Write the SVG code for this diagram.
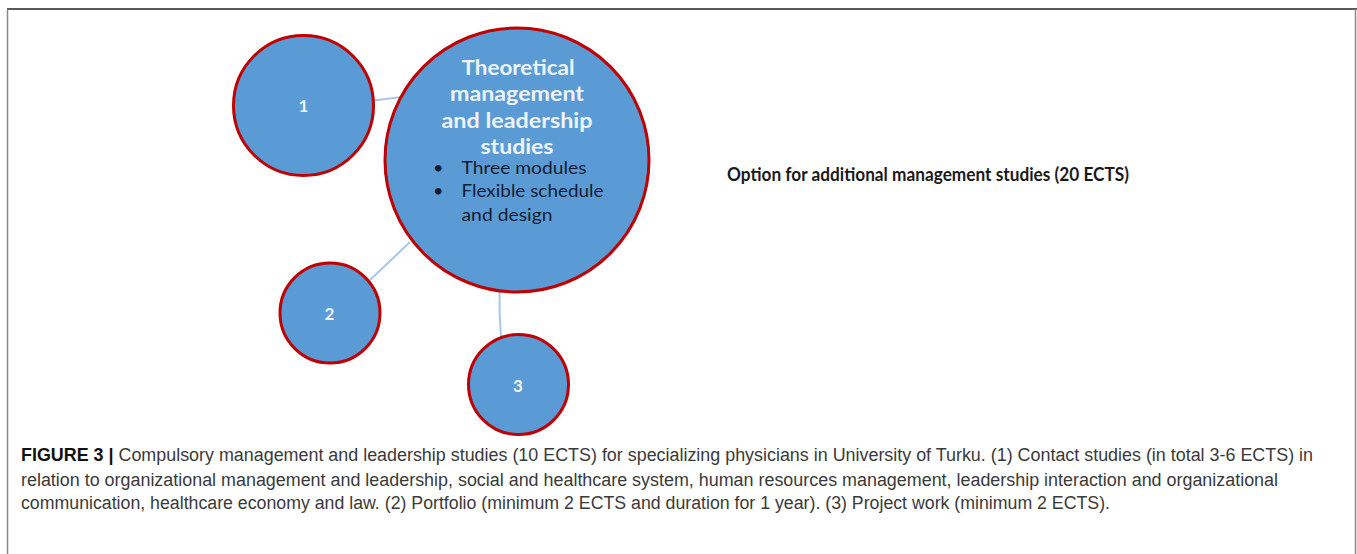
<svg xmlns="http://www.w3.org/2000/svg" width="1357" height="554" viewBox="0 0 1357 554">
<style>
.bub{fill:#5b9bd5;stroke:#c00000;stroke-width:3}
.num{font-family:Lato,"Open Sans","Liberation Sans",sans-serif;font-weight:bold;font-size:17px;fill:#eef3fa;text-anchor:middle}
.ttl{font-family:Lato,"Open Sans","Liberation Sans",sans-serif;font-weight:bold;font-size:21px;fill:#eef3fa;text-anchor:middle}
.bul{font-family:Lato,"Open Sans","Liberation Sans",sans-serif;font-size:18px;fill:#0f1d33}
.opt{font-family:Lato,"Open Sans","Liberation Sans",sans-serif;font-weight:bold;font-size:18px;fill:#1a1a1a}
.cap{font-family:"Liberation Sans",Arial,sans-serif;font-size:18px;fill:#3a3a3a}
.capb{font-weight:bold;fill:#111}
.conn{stroke:#aac6e6;stroke-width:2;fill:none}
</style>
<rect width="1357" height="554" fill="#ffffff"/>
<g id="frame">
<line x1="7" y1="9" x2="1357" y2="9" stroke="#222" stroke-width="1.5"/>
<line x1="7.5" y1="9" x2="7.5" y2="554" stroke="#8a8a8a" stroke-width="1.5"/>
<line x1="1355.5" y1="9" x2="1355.5" y2="554" stroke="#8a8a8a" stroke-width="1.5"/>
</g>
<g id="connectors">
<line class="conn" x1="374" y1="100.5" x2="402" y2="97"/>
<line class="conn" x1="370" y1="280" x2="410" y2="242"/>
<path class="conn" d="M499.5 292 Q499 315 501 337"/>
</g>
<g id="node-main">
<circle class="bub" cx="517" cy="160" r="132"/>
<text class="ttl" x="518" y="75" textLength="113" lengthAdjust="spacingAndGlyphs">Theoretical</text>
<text class="ttl" x="517" y="101" textLength="134" lengthAdjust="spacingAndGlyphs">management</text>
<text class="ttl" x="517" y="127.5" textLength="151" lengthAdjust="spacingAndGlyphs">and leadership</text>
<text class="ttl" x="517" y="154" textLength="73" lengthAdjust="spacingAndGlyphs">studies</text>
<text class="bul" x="433" y="174">•</text>
<text class="bul" x="461.5" y="174" textLength="125" lengthAdjust="spacingAndGlyphs">Three modules</text>
<text class="bul" x="433" y="197">•</text>
<text class="bul" x="461.5" y="197" textLength="142" lengthAdjust="spacingAndGlyphs">Flexible schedule</text>
<text class="bul" x="461.5" y="220.5" textLength="91" lengthAdjust="spacingAndGlyphs">and design</text>
</g>
<g id="node-1">
<circle class="bub" cx="303.5" cy="105.5" r="70"/>
<text class="num" x="303.5" y="112">1</text>
</g>
<g id="node-2">
<circle class="bub" cx="330" cy="313" r="50"/>
<text class="num" x="329.5" y="319.5">2</text>
</g>
<g id="node-3">
<circle class="bub" cx="518.5" cy="384.5" r="50"/>
<text class="num" x="518" y="391.5">3</text>
</g>
<g id="option">
<text class="opt" x="727" y="181" textLength="402" lengthAdjust="spacingAndGlyphs">Option for additional management studies (20 ECTS)</text>
</g>
<g id="caption">
<text class="cap" x="21" y="461" textLength="1292" lengthAdjust="spacingAndGlyphs"><tspan class="capb">FIGURE 3 |</tspan> Compulsory management and leadership studies (10 ECTS) for specializing physicians in University of Turku. (1) Contact studies (in total 3-6 ECTS) in</text>
<text class="cap" x="21" y="486" textLength="1257" lengthAdjust="spacingAndGlyphs">relation to organizational management and leadership, social and healthcare system, human resources management, leadership interaction and organizational</text>
<text class="cap" x="21" y="509" textLength="1089" lengthAdjust="spacingAndGlyphs">communication, healthcare economy and law. (2) Portfolio (minimum 2 ECTS and duration for 1 year). (3) Project work (minimum 2 ECTS).</text>
</g>
</svg>
